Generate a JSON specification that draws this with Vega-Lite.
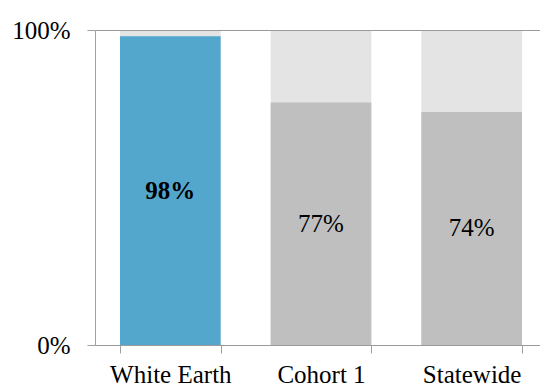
{
  "$schema": "https://vega.github.io/schema/vega-lite/v6.json",
  "autosize": {"type": "none"},
  "width": 445,
  "height": 315,
  "padding": {"left": 95, "top": 30, "right": 0, "bottom": 47},
  "background": "white",
  "config": {
    "view": {"stroke": null},
    "font": "Liberation Serif",
    "axis": {"labelFont": "Liberation Serif", "labelFontSize": 25, "labelColor": "#000000"}
  },
  "data": {
    "values": [
      {"group": "White Earth", "share": 0.98},
      {"group": "Cohort 1", "share": 0.77},
      {"group": "Statewide", "share": 0.74}
    ]
  },
  "encoding": {
    "x": {
      "field": "group",
      "type": "nominal",
      "sort": null,
      "title": null,
      "scale": {"range": [0, 452], "paddingInner": 0.332, "paddingOuter": 0.166},
      "axis": {
        "labelAngle": 0,
        "tickBand": "extent",
        "domainColor": "#a0a0a0",
        "tickColor": "#a0a0a0",
        "tickSize": 8,
        "labelPadding": 9
      }
    }
  },
  "layer": [
    {
      "mark": {"type": "bar", "color": "#e4e4e4"},
      "encoding": {
        "y": {
          "datum": 1,
          "type": "quantitative",
          "scale": {"domain": [0, 1]},
          "axis": null
        }
      }
    },
    {
      "mark": {"type": "bar"},
      "encoding": {
        "y": {
          "field": "share",
          "type": "quantitative",
          "title": null,
          "scale": {"domain": [0, 1]},
          "axis": {
            "values": [0, 1],
            "format": ".0%",
            "grid": true,
            "gridColor": "#9a9a9a",
            "domainColor": "#a0a0a0",
            "tickColor": "#a0a0a0",
            "tickSize": 8,
            "labelPadding": 17,
            "zindex": 1
          }
        },
        "color": {
          "condition": {"test": "datum.group === 'White Earth'", "value": "#53a7cd"},
          "value": "#bfbfbf"
        }
      }
    },
    {
      "transform": [{"filter": "datum.group === 'White Earth'"}],
      "mark": {"type": "text", "fontSize": 25, "fontWeight": "bold", "baseline": "middle", "font": "Liberation Serif", "color": "#000000"},
      "encoding": {
        "y": {"field": "share", "type": "quantitative", "scale": {"domain": [0, 2]}, "axis": null},
        "text": {"field": "share", "type": "quantitative", "format": ".0%"}
      }
    },
    {
      "transform": [{"filter": "datum.group !== 'White Earth'"}],
      "mark": {"type": "text", "fontSize": 25, "baseline": "middle", "font": "Liberation Serif", "color": "#000000"},
      "encoding": {
        "y": {"field": "share", "type": "quantitative", "scale": {"domain": [0, 2]}, "axis": null},
        "text": {"field": "share", "type": "quantitative", "format": ".0%"}
      }
    }
  ],
  "resolve": {"scale": {"y": "independent"}}
}
